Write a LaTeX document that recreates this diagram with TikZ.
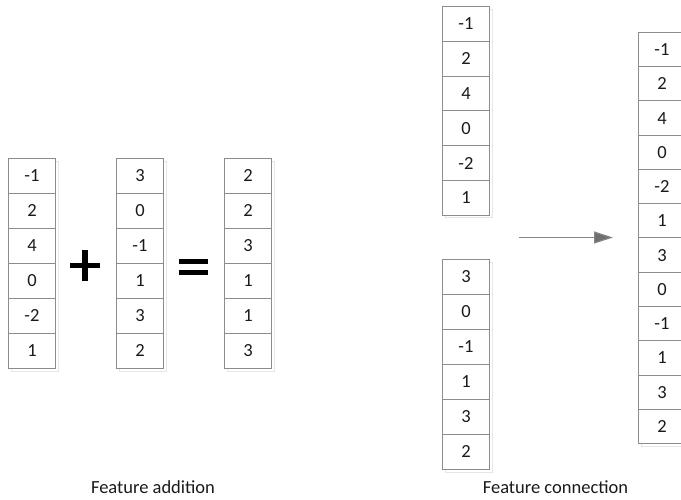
\documentclass[tikz,border=0pt]{standalone}
\usepackage{fontspec}
\setmainfont{Carlito}
\usetikzlibrary{arrows.meta}
\definecolor{cellgray}{HTML}{8C8C8C}
\definecolor{shadowgray}{HTML}{E6E6E6}
\definecolor{arrowgray}{HTML}{707070}
\definecolor{textdark}{HTML}{1A1A1A}
\tikzset{
  cell/.style={draw=cellgray, line width=0.9, minimum width=47, minimum height=#1,
    inner sep=0, anchor=north west, text=textdark, font=\fontsize{18.5}{22}\selectfont},
  cellshadow/.style={draw=shadowgray, line width=0.9},
  opbar/.style={line width=5.5, black},
  caption/.style={font=\fontsize{18.5}{22}\selectfont, text=textdark, inner sep=0, anchor=base}
}
% draws one column of cells: name, left x, top y, cell height, list of values
\newcommand{\vcolumn}[5]{%
  \foreach \v [count=\k from 0] in {#5} {\global\let\lastk\k}%
  \draw[cellshadow] (#2+3,#3+3) rectangle (#2+50,{#3+3+(\lastk+1)*#4});
  \foreach \v [count=\k from 1] in {#5} {
    \node[cell=#4, fill=white] (#1-\k) at (#2,{#3+(\k-1)*#4}) {\v};
  }%
}
\begin{document}
\begin{tikzpicture}[x=1pt,y=-1pt]
  \useasboundingbox (0,0) rectangle (681,500);
  \begin{scope}
    \clip (0,0) rectangle (681,500);
    % feature addition
    \vcolumn{a}{8}{158}{35}{-1,2,4,0,-2,1}
    \vcolumn{b}{116}{158}{35}{3,0,-1,1,3,2}
    \vcolumn{c}{224}{158}{35}{2,2,3,1,1,3}
    % plus sign
    \draw[opbar] (70,265.5) -- (100,265.5);
    \draw[opbar] (85,250) -- (85,281);
    % equals sign
    \draw[opbar] (179,261.5) -- (208,261.5);
    \draw[opbar] (179,272.5) -- (208,272.5);
    % feature connection
    \vcolumn{d}{442}{6}{34.8}{-1,2,4,0,-2,1}
    \vcolumn{e}{442}{259}{35}{3,0,-1,1,3,2}
    \vcolumn{f}{638}{32}{34.25}{-1,2,4,0,-2,1,3,0,-1,1,3,2}
  \end{scope}
  % arrow between the two stages
  \coordinate (arrS) at (519,237.5);
  \coordinate (arrE) at (613,237.5);
  \draw[draw=arrowgray!85, line width=1.2,
    -{Triangle[length=19, width=12, fill=arrowgray]}] (arrS) -- (arrE);
  % captions
  \node[caption] (capA) at (153,493) {Feature addition};
  \node[caption] (capB) at (555.5,493) {Feature connection};
\end{tikzpicture}
\end{document}
